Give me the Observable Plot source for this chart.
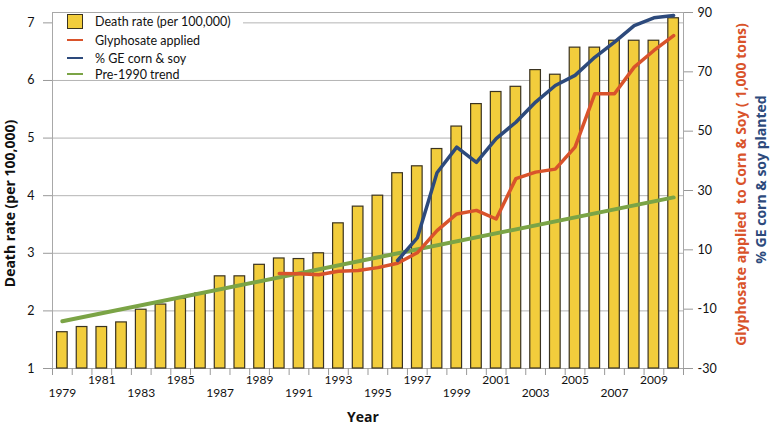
<!DOCTYPE html>
<html>
<head>
<meta charset="utf-8">
<script src="https://cdn.jsdelivr.net/npm/d3@7"></script>
<script src="https://cdn.jsdelivr.net/npm/@observablehq/plot@0.6"></script>
<style>
  html, body { margin: 0; padding: 0; background: #fff; }
  #wrap { position: relative; width: 770px; height: 425px; font-family: Lato, "Open Sans", sans-serif; }
  #legend { position: absolute; left: 53px; top: 13px; width: 190px; height: 64px; background: #fff; font-size: 12.5px; color: #111; }
  .row { position: absolute; left: 13px; height: 16px; display: flex; align-items: center; }
  .sw { width: 16px; margin-right: 12px; }
  .box { height: 13px; width: 14px; background: #f2cd3c; border: 1px solid #3a3320; }
  .ln { height: 2px; }
  .lbl { position: absolute; font-family: "Open Sans", Lato, sans-serif; font-weight: bold; font-size: 14px; line-height: 15px; white-space: pre; transform-origin: center center; }
</style>
</head>
<body>
<div id="wrap">
  <div id="chart"></div>
  <div id="legend"></div>
</div>
<script>
// ---- data ----
const years = [1979,1980,1981,1982,1983,1984,1985,1986,1987,1988,1989,1990,1991,1992,1993,1994,1995,1996,1997,1998,1999,2000,2001,2002,2003,2004,2005,2006,2007,2008,2009,2010];
const deathRate = [1.63,1.72,1.72,1.80,2.02,2.11,2.21,2.30,2.60,2.60,2.80,2.91,2.90,3.00,3.52,3.81,4.00,4.39,4.51,4.81,5.20,5.59,5.80,5.89,6.18,6.10,6.57,6.57,6.69,6.69,6.69,7.08];
const glyphYears = [1990,1991,1992,1993,1994,1995,1996,1997,1998,1999,2000,2001,2002,2003,2004,2005,2006,2007,2008,2009,2010];
const glyphosate = [2.0,1.9,1.6,2.8,3.0,4.0,5.5,9.0,16.5,22.1,23.3,20.4,34.0,36.2,37.2,44.6,62.6,62.6,71.6,77.2,82.2];
const geYears = [1996,1997,1998,1999,2000,2001,2002,2003,2004,2005,2006,2007,2008,2009,2010];
const gePercent = [6.4,14.0,36.0,44.6,39.5,47.5,53.0,59.8,65.4,68.8,74.9,80.0,85.6,88.2,89.0];
const trendYears = [1979, 2010];
const trendValues = [1.82, 3.97];
const leftTicks = [1,2,3,4,5,6,7];
const rightTicks = [-30,-10,10,30,50,70,90];
const yearLabelsUpper = [1981,1985,1989,1993,1997,2001,2005,2009];
const yearLabelsLower = [1979,1983,1987,1991,1995,1999,2003,2007];

const colors = {bar: "#f2cd3c", barStroke: "#3a3320", glyph: "#d9532b", ge: "#2d4a7c", trend: "#7ba446"};
const legendItems = [
  {label: "Death rate (per 100,000)", type: "box"},
  {label: "Glyphosate applied", type: "line", color: colors.glyph},
  {label: "% GE corn & soy", type: "line", color: colors.ge},
  {label: "Pre-1990 trend", type: "line", color: colors.trend}
];

// ---- dual axis mapping ----
const leftDomain = [1, 7.18];
const rightDomain = [-30, 90];
const toLeft = v => leftDomain[0] + (v - rightDomain[0]) / (rightDomain[1] - rightDomain[0]) * (leftDomain[1] - leftDomain[0]);
const toRight = v => rightDomain[0] + (v - leftDomain[0]) / (leftDomain[1] - leftDomain[0]) * (rightDomain[1] - rightDomain[0]);

const bars = years.map((y, i) => ({year: y, value: deathRate[i]}));
const glyph = glyphYears.map((y, i) => ({year: y, value: toLeft(glyphosate[i])}));
const ge = geYears.map((y, i) => ({year: y, value: toLeft(gePercent[i])}));
const trend = trendYears.map((y, i) => ({year: y, value: trendValues[i]}));
const boundaries = years.map(y => y - 0.5).concat([years[years.length - 1] + 0.5]);
const halfBar = 0.27;

const chart = Plot.plot({
  width: 770,
  height: 425,
  marginLeft: 52,
  marginRight: 87,
  marginTop: 12,
  marginBottom: 57,
  style: {fontFamily: "Lato, 'Open Sans', sans-serif", fontSize: "12px", color: "#111", background: "#fff"},
  x: {domain: [years[0] - 0.5, years[years.length - 1] + 0.5], axis: null},
  y: {domain: leftDomain, axis: null},
  marks: [
    Plot.ruleY(leftTicks.slice(1), {stroke: "#b4b4b4", strokeWidth: 1}),
    Plot.frame({stroke: "#a8a8a8", strokeWidth: 1}),
    Plot.axisY(leftTicks, {anchor: "left", tickSize: 9, tickPadding: 9, stroke: "#999", fontSize: 12.5, label: null,
      tickFormat: d => String(d)}),
    Plot.axisY(rightTicks.map(toLeft), {anchor: "right", tickSize: 9, tickPadding: 5, stroke: "#999", fontSize: 12.5, label: null,
      tickFormat: d => String(Math.round(toRight(d)))}),
    Plot.axisX(boundaries, {anchor: "bottom", tickSize: 7, stroke: "#999", tickFormat: () => "", label: null}),
    Plot.axisX(yearLabelsUpper, {anchor: "bottom", tickSize: 0, tickPadding: 7, fontSize: 12, label: null,
      tickFormat: d => String(d)}),
    Plot.axisX(yearLabelsLower, {anchor: "bottom", tickSize: 0, tickPadding: 20, fontSize: 12, label: null,
      tickFormat: d => String(d)}),
    Plot.rectY(bars, {x1: d => d.year - halfBar, x2: d => d.year + halfBar, y1: leftDomain[0], y2: "value",
      fill: colors.bar, stroke: colors.barStroke, strokeWidth: 1.2}),
    Plot.line(trend, {x: "year", y: "value", stroke: colors.trend, strokeWidth: 4}),
    Plot.line(glyph, {x: "year", y: "value", stroke: colors.glyph, strokeWidth: 3.5}),
    Plot.line(ge, {x: "year", y: "value", stroke: colors.ge, strokeWidth: 3.5})
  ]
});
document.getElementById("chart").appendChild(chart);

// ---- legend ----
const legend = document.getElementById("legend");
legendItems.forEach((item, i) => {
  const row = document.createElement("div");
  row.className = "row";
  row.style.top = [0, 19, 37, 53][i] + "px";
  const sw = document.createElement("div");
  if (item.type === "box") { sw.className = "sw box"; sw.style.width = "14px"; sw.style.marginRight = "12px"; sw.style.marginLeft = "1px"; }
  else { sw.className = "sw ln"; sw.style.background = item.color; sw.style.marginLeft = "1px"; sw.style.marginRight = "12px"; }
  row.appendChild(sw);
  const t = document.createElement("span");
  t.textContent = item.label;
  row.appendChild(t);
  legend.appendChild(row);
});

// ---- axis titles ----
function addLabel(text, color, cx, cy, rot) {
  const el = document.createElement("div");
  el.className = "lbl";
  el.textContent = text;
  el.style.color = color;
  document.getElementById("wrap").appendChild(el);
  const w = el.offsetWidth, h = el.offsetHeight;
  el.style.left = (cx - w / 2) + "px";
  el.style.top = (cy - h / 2) + "px";
  el.style.transform = `rotate(${rot}deg)`;
}
addLabel("Death rate (per 100,000)", "#111", 9, 203, -90);
addLabel("Glyphosate applied  to Corn & Soy ( 1,000 tons)", colors.glyph, 740, 184, -90);
addLabel("% GE corn & soy planted", colors.ge, 760, 179, -90);
addLabel("Year", "#111", 363, 416, 0);
</script>
</body>
</html>
